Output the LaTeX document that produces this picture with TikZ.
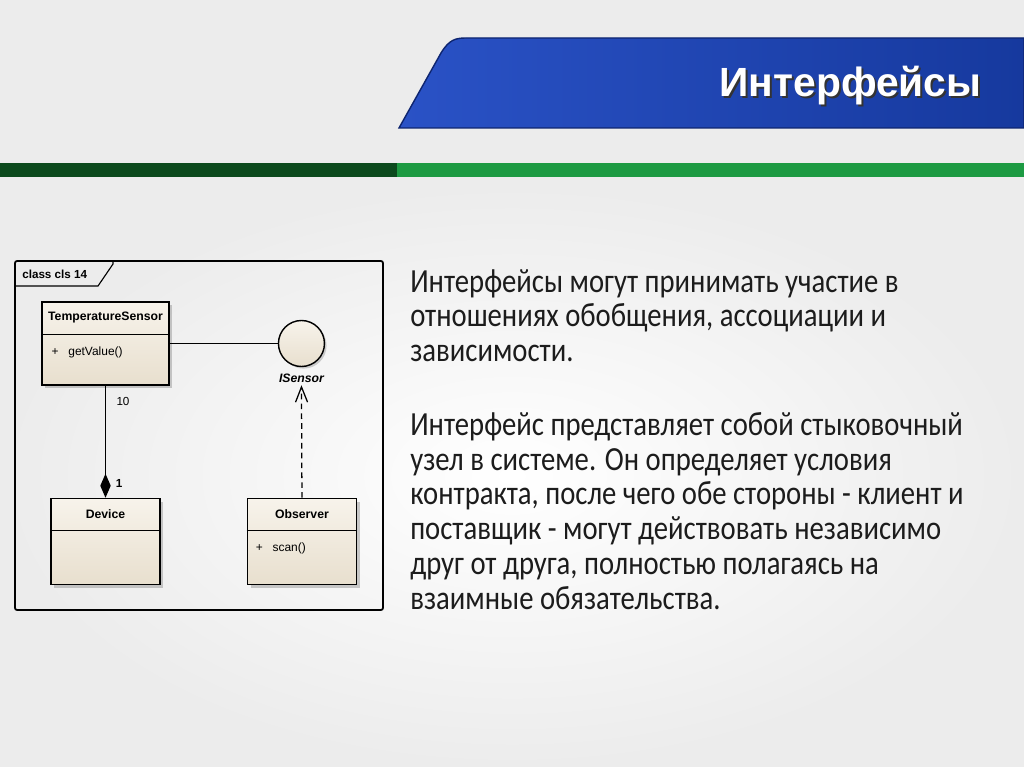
\documentclass[tikz,border=0pt]{standalone}
\usepackage{fontspec}
\setmainfont{Liberation Sans}
\setsansfont{Liberation Sans}
\newfontfamily\slidefont[FakeStretch=0.85]{Carlito}
\usetikzlibrary{positioning,calc,shadows,arrows.meta}
\definecolor{IfBack}{HTML}{ECECEC}
\definecolor{IfBlueA}{HTML}{2A52C6}
\definecolor{IfBlueB}{HTML}{16399E}
\definecolor{IfBlueEdge}{HTML}{0E2570}
\definecolor{IfGreenDark}{HTML}{0C4A1D}
\definecolor{IfGreen}{HTML}{1D9A42}
\definecolor{IfCream}{HTML}{F7F3EB}
\definecolor{IfCreamDark}{HTML}{E8DFCE}
\definecolor{IfInk}{HTML}{1C1C1C}

\begin{document}
\begin{tikzpicture}[x=0.025cm, y=-0.025cm, font=\sffamily,
  umlbox/.style={draw=black, line width=1pt, top color=IfCream, bottom color=IfCreamDark, inner sep=0pt,
    drop shadow={shadow xshift=2.2pt, shadow yshift=-2.2pt, fill=black!45, opacity=.45}},
  umlname/.style={font=\fontsize{8.7}{10}\selectfont\bfseries, inner sep=0pt},
  umlmember/.style={font=\fontsize{8.5}{10}\selectfont, inner sep=0pt, anchor=west},
  umllabel/.style={font=\fontsize{8.3}{10}\selectfont\bfseries, inner sep=0pt},
  umlline/.style={line width=.9pt},
  bodytext/.style={font=\slidefont\fontsize{24}{24.72pt}\selectfont, text=IfInk, align=left, inner sep=0pt, anchor=north west}]

  \useasboundingbox (0,0) rectangle (1024,767);
  \fill[IfBack] (0,0) rectangle (1024,767);
  \shade[inner color=white, outer color=IfBack] (0,185) rectangle (1024,767);

  \shade[left color=IfBlueA, right color=IfBlueB, draw=IfBlueEdge, line width=1pt]
    (399,128) -- (441,53) .. controls (449,40) and (455,38) .. (466,38) -- (1024,38) -- (1024,128) -- cycle;
  \node[font=\bfseries\fontsize{29}{30}\selectfont, text=black!80, anchor=base] (titleshade) at (852.5,98.5) {Интерфейсы};
  \node[font=\bfseries\fontsize{29}{30}\selectfont, text=white, anchor=base] (title) at (850.5,97) {Интерфейсы};

  \fill[IfGreenDark] (0,163) rectangle (397,177);
  \fill[IfGreen] (397,163) rectangle (1024,177);

  \draw[line width=1.3pt, rounded corners=1.5pt] (15,261) rectangle (383,610);
  \draw[line width=.8pt] (15,286) -- (98,286) -- (113,264) -- (113,261);
  \node[umllabel, anchor=base west] (frametag) at (22,278) {class cls 14};

  \node[umlbox, minimum width=3.175cm, minimum height=2.075cm] (tsens) at (105.5,343.5) {};
  \node[umlbox, minimum width=2.725cm, minimum height=2.15cm, below=2.8cm of tsens] (device) {};
  \node[umlbox, minimum width=2.725cm, minimum height=2.15cm, right=2.15cm of device] (observer) {};
  \node[circle, draw=black, line width=1pt, top color=IfCream, bottom color=IfCreamDark, minimum size=1.15cm, inner sep=0pt,
    drop shadow={shadow xshift=1.5pt, shadow yshift=-1.5pt, fill=black!45, opacity=.4}, right=2.7cm of tsens] (isensor) {};
  \node[font=\fontsize{8.7}{10}\selectfont\bfseries\itshape, inner sep=0pt, below=0.15cm of isensor] (isensorname) {ISensor};

  \draw[umlline] ([yshift=-0.825cm]tsens.north west) -- ([yshift=-0.825cm]tsens.north east);
  \draw[umlline] ([yshift=-0.825cm]device.north west) -- ([yshift=-0.825cm]device.north east);
  \draw[umlline] ([yshift=-0.825cm]observer.north west) -- ([yshift=-0.825cm]observer.north east);

  \node[umlname] (tsensname) at ([yshift=-0.41cm]tsens.north) {TemperatureSensor};
  \node[umlname] (devicename) at ([yshift=-0.41cm]device.north) {Device};
  \node[umlname] (observername) at ([yshift=-0.41cm]observer.north) {Observer};
  \node[umlmember] (getvalue) at ([xshift=0.25cm, yshift=-1.275cm]tsens.north west) {+\hspace{7pt}getValue()};
  \node[umlmember] (scan) at ([xshift=0.22cm, yshift=-1.275cm]observer.north west) {+\hspace{7pt}scan()};

  \draw[umlline] (tsens.east) -- (isensor.west);
  \draw[umlline, {Diamond[length=0.6cm, width=0.26cm]}-] (device.north) -- (tsens.south);
  \node[font=\fontsize{8.3}{10}\selectfont, inner sep=0pt] (manyend) at (123,401) {10};
  \node[umllabel] (oneend) at (119,483) {1};
  \draw[umlline, dash pattern=on 4pt off 3pt, -{Straight Barb[length=0.38cm, width=0.3cm]}, shorten >=2pt]
    (observer.north) -- (isensorname.south);

  \node[bodytext] (para1) at (410,269) {Интерфейсы могут принимать участие в\\
    отношениях обобщения, ассоциации и\\
    зависимости.};
  \node[bodytext] (para2) at (410,412) {Интерфейс представляет собой стыковочный\\
    узел в системе. Он определяет условия\\
    контракта, после чего обе стороны - клиент и\\
    поставщик - могут действовать независимо\\
    друг от друга, полностью полагаясь на\\
    взаимные обязательства.};
\end{tikzpicture}
\end{document}
